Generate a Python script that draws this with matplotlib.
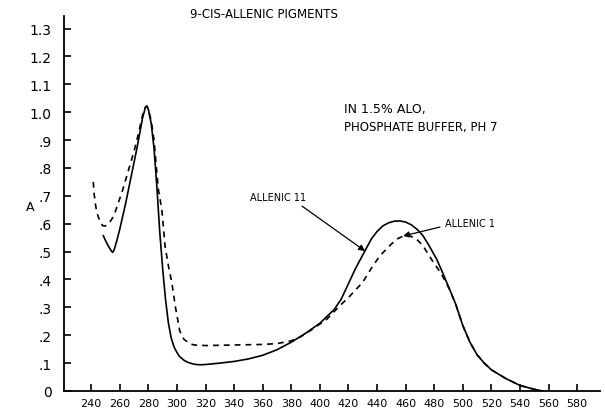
import numpy as np
import matplotlib
matplotlib.use("Agg")
import matplotlib.pyplot as plt

# absorbance spectra
# Allenic II (solid)
wl_2 = [248.5, 250, 252, 254, 255, 256, 258, 260, 262, 264, 266, 268, 270, 272,
        274, 276, 278, 279, 280, 282, 284, 286, 288, 290, 292, 294, 296, 298,
        300, 302, 305, 308, 312, 316, 320, 330, 340, 350, 360, 370, 380, 390,
        400, 410, 415, 420, 425, 431.6, 436, 440, 444, 448, 452, 456, 460, 464,
        468, 472, 476, 481.7, 485, 488.7, 491, 495, 500, 505, 510, 515, 520,
        530, 540, 550, 556]
a_2 = [0.557, 0.54, 0.52, 0.503, 0.497, 0.505, 0.54, 0.58, 0.625, 0.67, 0.72,
       0.77, 0.82, 0.87, 0.925, 0.98, 1.018, 1.022, 1.01, 0.96, 0.87, 0.73,
       0.57, 0.44, 0.33, 0.245, 0.19, 0.158, 0.138, 0.123, 0.11, 0.102, 0.096,
       0.094, 0.095, 0.1, 0.106, 0.115, 0.128, 0.148, 0.175, 0.207, 0.243,
       0.292, 0.33, 0.385, 0.44, 0.503, 0.545, 0.572, 0.592, 0.603, 0.609,
       0.61, 0.606, 0.596, 0.58, 0.558, 0.525, 0.473, 0.435, 0.39, 0.362,
       0.312, 0.235, 0.175, 0.13, 0.1, 0.076, 0.045, 0.02, 0.006, 0.0]

# Allenic I (dashed)
wl_1 = [241.5, 242, 243, 244, 246, 248, 250, 252, 254, 256, 258, 260, 262, 264,
        266, 268, 270, 272, 274, 276, 278, 279, 280, 282, 284, 286, 287, 289.4,
        291.7, 294, 296.4, 299, 302, 305, 309, 312, 320, 340, 360, 370, 380, 386,
        390, 400, 405, 414, 420, 430, 436, 442, 450, 455, 459, 463, 467, 472,
        478, 485, 488.7, 491, 495, 500, 505, 510, 515, 520, 530, 540, 550, 556]
a_1 = [0.75, 0.71, 0.67, 0.64, 0.61, 0.593, 0.592, 0.6, 0.613, 0.63, 0.66,
       0.69, 0.72, 0.755, 0.79, 0.825, 0.86, 0.9, 0.945, 0.99, 1.018, 1.022,
       1.01, 0.97, 0.9, 0.78, 0.724, 0.652, 0.52, 0.45, 0.39, 0.3, 0.215, 0.185,
       0.17, 0.165, 0.163, 0.165, 0.167, 0.17, 0.18, 0.193, 0.205, 0.24, 0.258,
       0.306, 0.335, 0.39, 0.44, 0.485, 0.527, 0.548, 0.557, 0.556, 0.548,
       0.522, 0.473, 0.42, 0.385, 0.362, 0.312, 0.235, 0.175, 0.13, 0.1, 0.076,
       0.045, 0.02, 0.006, 0.0]

x_ticks = list(range(240, 600, 20))
y_ticks = [0.0, 0.1, 0.2, 0.3, 0.4, 0.5, 0.6, 0.7, 0.8, 0.9, 1.0, 1.1, 1.2, 1.3]
y_labels = ["0", ".1", ".2", ".3", ".4", ".5", ".6", ".7", ".8", ".9",
            "1.0", "1.1", "1.2", "1.3"]

fig = plt.figure(figsize=(6.05, 4.10), dpi=100)
ax = fig.add_axes([64/605, 18/410, 536/605, 375/410])

ax.plot(wl_2, a_2, color="black", lw=1.2)
ax.plot(wl_1, a_1, color="black", lw=1.2, linestyle=(0, (3.5, 3)))

ax.set_xlim(221, 596)
ax.set_ylim(0, 1.345)
ax.set_xticks(x_ticks)
ax.set_xticklabels([str(v) for v in x_ticks], fontsize=8)
ax.set_yticks(y_ticks)
ax.set_yticklabels(y_labels, fontsize=10)
ax.tick_params(direction="in", length=5, width=1.2)
ax.tick_params(axis="y", pad=9)
ax.tick_params(axis="x", pad=5)
ax.spines["top"].set_visible(False)
ax.spines["right"].set_visible(False)
ax.spines["left"].set_linewidth(1.3)
ax.spines["bottom"].set_linewidth(1.3)

# labels with arrows
arrow = dict(arrowstyle="-|>", color="black", lw=0.9, mutation_scale=9,
             shrinkA=0, shrinkB=0)
ax.annotate("", xy=(431.6, 0.502), xytext=(387.6, 0.663), arrowprops=arrow)
ax.text(351.2, 0.695, "ALLENIC 11", fontsize=7, va="center", ha="left")
ax.annotate("", xy=(458.2, 0.556), xytext=(484, 0.588), arrowprops=arrow)
ax.text(487.6, 0.604, "ALLENIC 1", fontsize=7, va="center", ha="left")

fig.text(264/605, 1 - 14/410, "9-CIS-ALLENIC PIGMENTS", fontsize=8.5,
         ha="center", va="center")
fig.text(344/605, 1 - 110/410, "IN 1.5% ALO,", fontsize=9,
         ha="left", va="center")
fig.text(344/605, 1 - 128/410, "PHOSPHATE BUFFER, PH 7", fontsize=8.5,
         ha="left", va="center")
fig.text(30/605, 1 - 208/410, "A", fontsize=9, ha="center", va="center")

fig.savefig("out.png", dpi=100)
